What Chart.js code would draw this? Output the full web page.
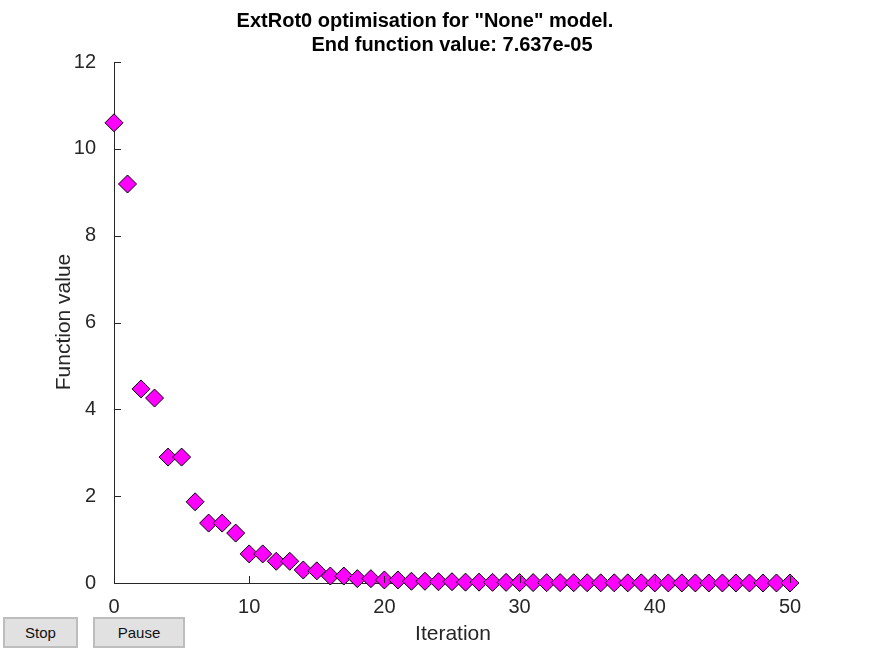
<!DOCTYPE html>
<html>
<head>
<meta charset="utf-8">
<script src="https://cdn.jsdelivr.net/npm/chart.js@4"></script>
<style>
  body { margin: 0; background: #fff; font-family: "Liberation Sans", Arial, sans-serif; }
  #wrap { position: relative; width: 875px; height: 656px; }
  button { position: absolute; top: 617px; height: 31px; background: #e1e1e1; border: 2px solid #bdbdbd;
           font: 15px "Liberation Sans", Arial, sans-serif; color: #111; }
</style>
</head>
<body>
<div id="wrap">
  <canvas id="chart" width="875" height="656"></canvas>
  <button style="left:3px;width:75px">Stop</button>
  <button style="left:93px;width:92px">Pause</button>
</div>
<script>
const iterations = [];
for (let i = 0; i <= 50; i++) iterations.push(i);
const values = [10.6, 9.19, 4.47, 4.26, 2.9, 2.9, 1.87, 1.38, 1.38, 1.15,
  0.67, 0.67, 0.5, 0.5, 0.3, 0.28, 0.16, 0.16, 0.1, 0.1,
  0.07, 0.07, 0.04, 0.04, 0.03, 0.03, 0.02, 0.02, 0.015, 0.015,
  0.01, 0.01, 0.008, 0.008, 0.006, 0.006, 0.004, 0.004, 0.003, 0.003,
  0.002, 0.002, 0.0015, 0.0015, 0.001, 0.001, 0.0008, 0.0008, 0.0005, 0.0005, 0.0001];
const titleLines = ['ExtRot0 optimisation for "None" model.', 'End function value: 7.637e-05'];
const xTicks = [0, 10, 20, 30, 40, 50];
const yTicks = [0, 2, 4, 6, 8, 10, 12];

const ink = '#262626';
const font = '"Liberation Sans", Arial, sans-serif';

const deco = {
  id: 'deco',
  afterDraw(chart) {
    const ctx = chart.ctx, x = chart.scales.x, y = chart.scales.y;
    ctx.save();
    ctx.strokeStyle = ink; ctx.lineWidth = 1;
    ctx.beginPath();
    xTicks.forEach(v => { const p = Math.round(x.getPixelForValue(v)) + 0.5; ctx.moveTo(p, y.bottom); ctx.lineTo(p, y.bottom - 7); });
    yTicks.forEach(v => { const p = Math.round(y.getPixelForValue(v)) + 0.5; ctx.moveTo(x.left, p); ctx.lineTo(x.left + 7, p); });
    ctx.stroke();
    ctx.fillStyle = '#000';
    ctx.textAlign = 'center';
    ctx.font = 'bold 20px ' + font;
    ctx.fillText(titleLines[0], 425, 27);
    ctx.fillText(titleLines[1], 452, 51);
    ctx.fillStyle = ink;
    ctx.font = '21px ' + font;
    ctx.fillText('Iteration', 453, 640);
    ctx.translate(70, 322);
    ctx.rotate(-Math.PI / 2);
    ctx.fillText('Function value', 0, 0);
    ctx.restore();
  }
};

new Chart(document.getElementById('chart'), {
  type: 'scatter',
  data: {
    datasets: [{
      data: iterations.map((it, i) => ({ x: it, y: values[i] })),
      clip: false,
      pointStyle: 'rectRot',
      pointRadius: 9,
      pointBackgroundColor: '#ff00ff',
      pointBorderColor: '#000',
      pointBorderWidth: 1
    }]
  },
  options: {
    responsive: false,
    animation: false,
    layout: { padding: { top: 62, right: 85, left: 0, bottom: 0 } },
    plugins: { legend: { display: false }, tooltip: { enabled: false } },
    scales: {
      x: {
        type: 'linear', min: 0, max: 50,
        afterBuildTicks: s => { s.ticks = xTicks.map(v => ({ value: v })); },
        afterFit: s => { s.height = 73; },
        grid: { display: false },
        border: { color: ink, width: 1 },
        ticks: { color: ink, font: { size: 20, family: font }, padding: 4 }
      },
      y: {
        min: 0, max: 12,
        afterBuildTicks: s => { s.ticks = yTicks.map(v => ({ value: v })); },
        afterFit: s => { s.width = 114; },
        grid: { display: false },
        border: { color: ink, width: 1 },
        ticks: { color: ink, font: { size: 20, family: font }, padding: 10 }
      }
    }
  },
  plugins: [deco]
});
</script>
</body>
</html>
